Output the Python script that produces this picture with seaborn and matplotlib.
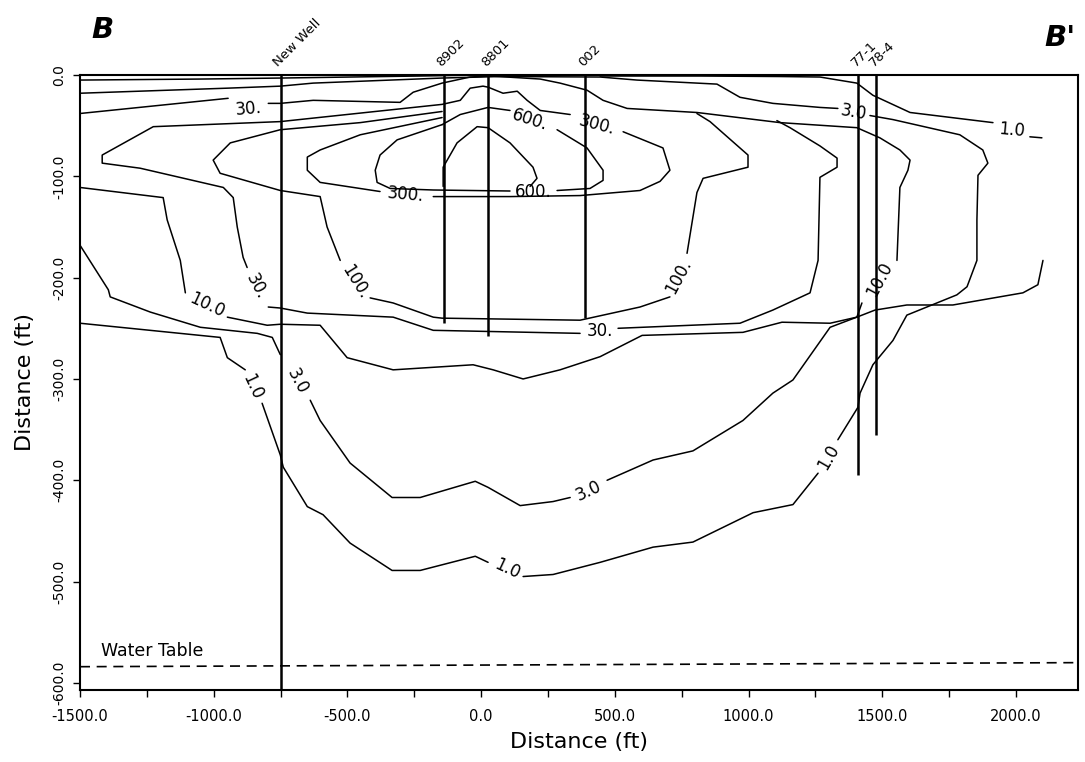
import numpy as np
import pandas as pd
import matplotlib
matplotlib.use("Agg")
import matplotlib.pyplot as plt
import seaborn as sns

nan = np.nan

# wells: position along section (ft) and bottom of the trace (ft)
well_names = ["New Well", "8902", "8801", "002", "77-1", "78-4"]
well_x = [-750, -140, 25, 390, 1410, 1475]
well_bottom = [-607, -245, -258, -240, -395, -355]

# water table
wt_x = [-1500, 2232]
wt_y = [-584, -580]

surface_x = [-1500, -1050, -750, -230, 0]
surface_y = [-5, -4, -3, -1, 0]

plume_outer_x = [-1500, -949, -751, -628, -146, 71, 445, 583, 882, 968, 1091, 1267, 1334, nan,
                 1454, 1540, 1790, 1876, 1895, 1858, 1854, 1854, 1817, 1779, 1592, 1540, 1465, 1417, 1409, 1334, nan,
                 1260, 1166, 1017, 792, 643, 445, 269, 157, nan,
                 26, -22, -228, -333, -490, -591, -650, -740, -751, -819, nan,
                 -882, -949, -976, -1500]
plume_outer_y = [-18, -13, -11, -8, -3, -1.5, -2, -5, -9, -22, -28, -32, -33, nan,
                 -40, -44, -59, -74, -87, -99, -143, -183, -209, -217, -237, -262, -286, -314, -328, -360, nan,
                 -393, -424, -432, -461, -466, -481, -493, -495, nan,
                 -481, -475, -489, -489, -462, -434, -426, -387, -375, -324, nan,
                 -291, -279, -259, -245]

east_one_x = [445, 819, 1118, 1267, 1405, 1465, 1604, 1914, nan, 2052, 2097]
east_one_y = [-1, -1, -1.5, -2, -8, -20, -37, -47, nan, -61, -62]

west_thirty_x = [-1500, -946, nan, -796, -751, -628, -303, -254, -146, -41, 34]
west_thirty_y = [-38, -23, nan, -28, -28, -25, -27, -17, -8, -2, -1]

ten_x = [34, 221, 295, 396, 456, 546, 807, 1118, 1405, 1491, 1566, 1604, 1596, 1566, 1555, nan,
         1424, 1405, 1305, 1125, 979, 602, 445, 295, 157, 45, -30, -329, -501, -602, -751, -800, -949, nan,
         -1106, -1125, -1174, -1189, -1500]
ten_y = [-1, -4, -8, -15, -25, -33, -37, -47, -52, -62, -74, -84, -94, -111, -183, nan,
         -225, -239, -245, -244, -254, -257, -278, -291, -300, -291, -286, -291, -279, -247, -246, -247, -239, nan,
         -215, -183, -143, -121, -111]

ten_tail_x = [1405, 1473, 1592, 1764, 2026, 2082, 2101]
ten_tail_y = [-239, -232, -227, -227, -215, -207, -183]

three_lower_x = [-1500, -1394, -1387, -1237, -1050, -837, -781, -751, nan,
                 -639, -602, -490, -333, -228, -22, 26, 146, 269, 333, nan,
                 471, 643, 792, 979, 1091, 1166, 1305, 1405]
three_lower_y = [-168, -212, -219, -234, -249, -255, -259, -276, nan,
                 -321, -341, -383, -417, -417, -401, -407, -425, -421, -417, nan,
                 -400, -380, -371, -341, -314, -301, -249, -239]

thirty_loop_x = [1106, 1155, 1267, 1331, 1331, 1267, 1260, 1230, 1091, 968, 512, nan,
                 370, -179, -329, -650, -751, -796, nan,
                 -875, -890, -912, -927, -964, -1275, -1417, -1417, -1226, -751, -146, -78, -41, 7, 26, 82, 135,
                 172, 221, 333, nan,
                 531, 680, 706, 669, 594, 370, 108, -179, nan,
                 -378, -602, -650, -650, -602, -452, -146]
thirty_loop_y = [-45, -52, -70, -82, -91, -101, -183, -215, -232, -245, -250, nan,
                 -255, -252, -239, -235, -230, -229, nan,
                 -190, -180, -150, -121, -111, -92, -87, -79, -51, -46, -29, -25, -13, -11, -12, -18, -16,
                 -25, -35, -39, nan,
                 -56, -72, -94, -105, -114, -119, -120, -120, nan,
                 -115, -106, -94, -81, -74, -59, -42]

hundred_loop_x = [807, 856, 942, 998, 998, 830, 807, 770, nan,
                  706, 594, 370, -146, -179, -329, -415, nan,
                  -527, -576, -602, -751, -976, -1002, -938, -751, -452, -146]
hundred_loop_y = [-38, -46, -66, -79, -91, -102, -116, -176, nan,
                  -219, -229, -242, -240, -239, -225, -220, nan,
                  -183, -150, -120, -114, -97, -84, -67, -54, -47, -36]

six_hundred_x = [-146, -78, 26, 108, nan, 284, 396, 456, 456, 407, 284, nan,
                 108, -179, -340, -389, -396, -378, -314, -146]
six_hundred_y = [-49, -39, -32, -35, nan, -54, -72, -94, -104, -112, -114, nan,
                 -114.5, -113.5, -112, -106, -94, -79, -64, -49]

dome_x = [-142, -142, -90, -15, 26, 108, 194, 209, 183]
dome_y = [-110, -91, -67, -51, -52, -67, -91, -102, -110]

# contour labels
label_text = ["30.", "30.", "100.", "100.", "300.", "300.", "600.", "600.", "30.",
              "10.0", "10.0", "3.0", "3.0", "3.0", "1.0", "1.0", "1.0", "1.0"]
label_x = [-871, -841, -471, 736, -284, 434, 183, 194, 445,
           -1024, 1491, 1391, -688, 400, 1985, -856, 97, 1297]
label_y = [-33, -209, -204, -199, -118, -49, -44, -115, -253,
           -227, -202, -37, -302, -410, -54, -308, -488, -377]
label_rot = [5, -62, -58, 62, -5, -15, -18, 0, 0,
             -25, 62, -10, -62, 25, -5, -65, -25, 60]

x_ticks = [-1500, -1000, -500, 0, 500, 1000, 1500, 2000]
y_ticks = [0, -100, -200, -300, -400, -500, -600]

traces = [
    (surface_x, surface_y), (plume_outer_x, plume_outer_y), (east_one_x, east_one_y),
    (west_thirty_x, west_thirty_y), (ten_x, ten_y), (ten_tail_x, ten_tail_y),
    (three_lower_x, three_lower_y), (thirty_loop_x, thirty_loop_y),
    (hundred_loop_x, hundred_loop_y), (six_hundred_x, six_hundred_y), (dome_x, dome_y),
]

# split every trace at the nan breaks into separate units for seaborn
rows = []
seg = 0
for xs, ys in traces:
    for x, y in zip(xs, ys):
        if np.isnan(x):
            seg += 1
            continue
        rows.append((seg, x, y))
    seg += 1
lines = pd.DataFrame(rows, columns=["seg", "x", "y"])

sns.set_theme(style="ticks")
plt.rcParams["font.family"] = ["DejaVu Sans"]
plt.rcParams.update({"text.color": "black", "axes.labelcolor": "black",
                     "xtick.color": "black", "ytick.color": "black"})

fig = plt.figure(figsize=(10.85, 7.62), dpi=100)
ax = fig.add_axes([80 / 1085, 1 - 690 / 762, 998 / 1085, 615 / 762])

sns.lineplot(data=lines, x="x", y="y", units="seg", estimator=None, sort=False,
             color="black", lw=1.1, ax=ax, legend=False)

for t, x, y, r in zip(label_text, label_x, label_y, label_rot):
    ax.text(x, y, t, rotation=r, rotation_mode="anchor", ha="center", va="center",
            fontsize=12, color="black")

# wells
for name, x, b in zip(well_names, well_x, well_bottom):
    ax.plot([x, x], [0, b], color="black", lw=1.8, solid_capstyle="butt")
    ax.annotate(name, (x, 0), xytext=(0, 4), textcoords="offset points", rotation=45,
                rotation_mode="anchor", ha="left", va="bottom", fontsize=9.5,
                annotation_clip=False)

# water table
ax.plot(wt_x, wt_y, color="black", lw=1.2, ls=(0, (6, 4)))
ax.text(-1420, -577, "Water Table", fontsize=12.5, ha="left", va="bottom")

ax.set_xlim(-1500, 2232)
ax.set_ylim(-607, 0)
ax.set_xticks(x_ticks)
ax.set_xticklabels([f"{v:.1f}" for v in x_ticks])
ax.set_xticks(np.arange(-1500, 2232, 250), minor=True)
ax.set_yticks(y_ticks)
ax.set_yticklabels([f"{v:.1f}" for v in y_ticks], rotation=90, va="center")
ax.tick_params(axis="x", which="major", direction="out", length=5, width=1,
               labelsize=10.5, pad=9)
ax.tick_params(axis="y", which="major", direction="out", length=5, width=1,
               labelsize=10, pad=5)
ax.tick_params(axis="x", which="minor", direction="out", length=5, width=1)
for s in ax.spines.values():
    s.set_color("black")
    s.set_linewidth(1.5)

ax.set_xlabel("Distance (ft)", fontsize=16)
ax.set_ylabel("Distance (ft)", fontsize=16)
ax.xaxis.set_label_coords(0.5, -0.068)
ax.yaxis.set_label_coords(-0.045, 0.5)

fig.text(103 / 1085, 1 - 30 / 762, "B", fontsize=21, fontweight="bold", style="italic",
         ha="center", va="center")
fig.text(1060 / 1085, 1 - 38 / 762, "B'", fontsize=21, fontweight="bold", style="italic",
         ha="center", va="center")

fig.savefig("out.png", dpi=100)
